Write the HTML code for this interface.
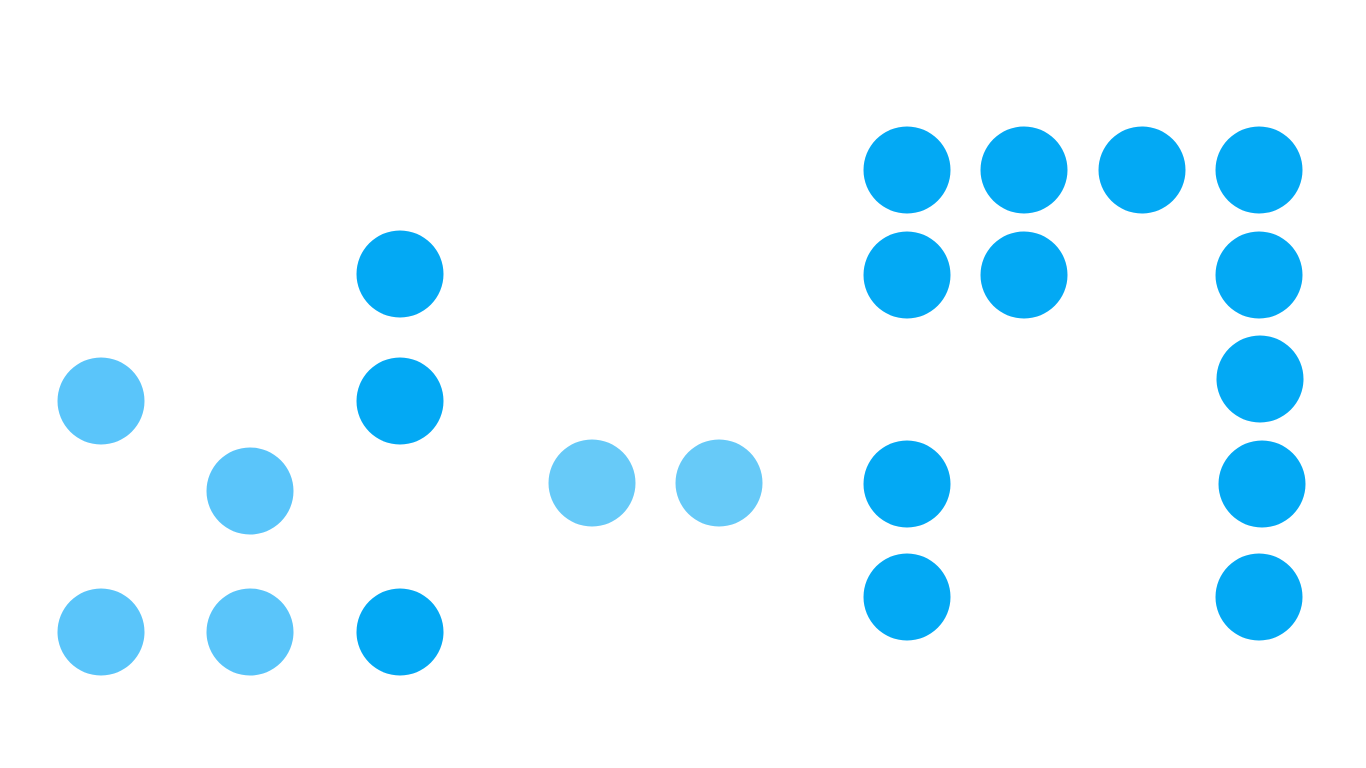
<!DOCTYPE html>
<html><head><meta charset="utf-8"><style>html,body{margin:0;padding:0;background:#fff;width:1366px;height:768px;overflow:hidden}</style></head>
<body>
<svg width="1366" height="768" xmlns="http://www.w3.org/2000/svg">
<g fill="#03A9F4">
<circle cx="907" cy="170" r="43.5"/>
<circle cx="1024" cy="170" r="43.5"/>
<circle cx="1142" cy="170" r="43.5"/>
<circle cx="1259" cy="170" r="43.5"/>
<circle cx="907" cy="275" r="43.5"/>
<circle cx="1024" cy="275" r="43.5"/>
<circle cx="1259" cy="275" r="43.5"/>
<circle cx="1260" cy="379" r="43.5"/>
<circle cx="907" cy="484" r="43.5"/>
<circle cx="1262" cy="484" r="43.5"/>
<circle cx="907" cy="597" r="43.5"/>
<circle cx="1259" cy="597" r="43.5"/>
<circle cx="400" cy="274" r="43.5"/>
<circle cx="400" cy="401" r="43.5"/>
<circle cx="400" cy="632" r="43.5"/>
</g>
<g fill="#5AC5FA">
<circle cx="101" cy="401" r="43.5"/>
<circle cx="250" cy="491" r="43.5"/>
<circle cx="101" cy="632" r="43.5"/>
<circle cx="250" cy="632" r="43.5"/>
</g>
<g fill="#67CAF8">
<circle cx="592" cy="483" r="43.5"/>
<circle cx="719" cy="483" r="43.5"/>
</g>
</svg>
</body></html>
